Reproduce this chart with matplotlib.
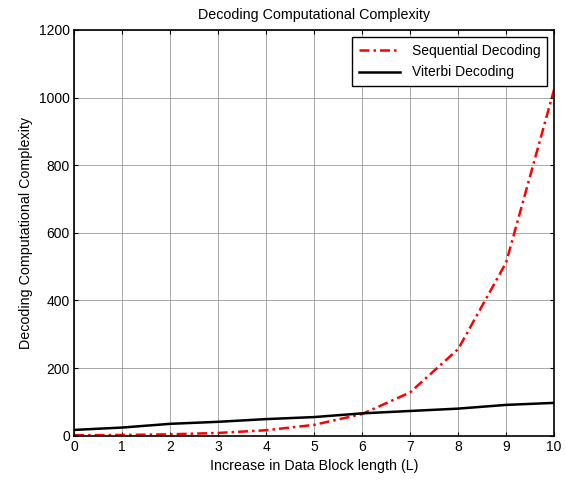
import numpy as np
import matplotlib.pyplot as plt

plt.rcParams['font.family'] = ['Liberation Sans', 'DejaVu Sans']

# data
block_length = [0, 1, 2, 3, 4, 5, 6, 7, 8, 9, 10]
sequential = [1, 2, 4, 8, 16, 32, 64, 128, 256, 512, 1024]
viterbi = [17, 24, 35, 41, 49, 55, 66, 73, 80, 91, 97]

fig = plt.figure(figsize=(5.66, 4.83), dpi=100)
ax = fig.add_axes([0.131, 0.098, 0.848, 0.840])

ax.plot(block_length, sequential, color='red', linestyle=(0, (4, 1.6, 1, 1.6)),
        linewidth=1.8, label='Sequential Decoding')
ax.plot(block_length, viterbi, color='black', linestyle='-', linewidth=1.8,
        label='Viterbi Decoding')

ax.set_xlim(0, 10)
ax.set_ylim(0, 1200)
ax.set_xticks(range(0, 11))
ax.set_yticks(range(0, 1201, 200))
ax.grid(True, color='#808080', linewidth=0.6, linestyle='-', alpha=0.8)
ax.tick_params(direction='in', top=True, right=True, labelsize=10, length=3, pad=3)
for s in ax.spines.values():
    s.set_linewidth(1.2)

ax.set_xlabel('Increase in Data Block length (L)', fontsize=10.3, labelpad=4)
ax.set_ylabel('Decoding Computational Complexity', fontsize=10.3, labelpad=4)
ax.set_title('Decoding Computational Complexity', fontsize=10.3, pad=8)

leg = ax.legend(loc='upper right', fontsize=10, fancybox=False, framealpha=1,
                edgecolor='black', borderaxespad=0.5, handlelength=3.0,
                borderpad=0.5, labelspacing=0.55)
leg.get_frame().set_linewidth(1.0)

plt.savefig('out.png', dpi=100)
